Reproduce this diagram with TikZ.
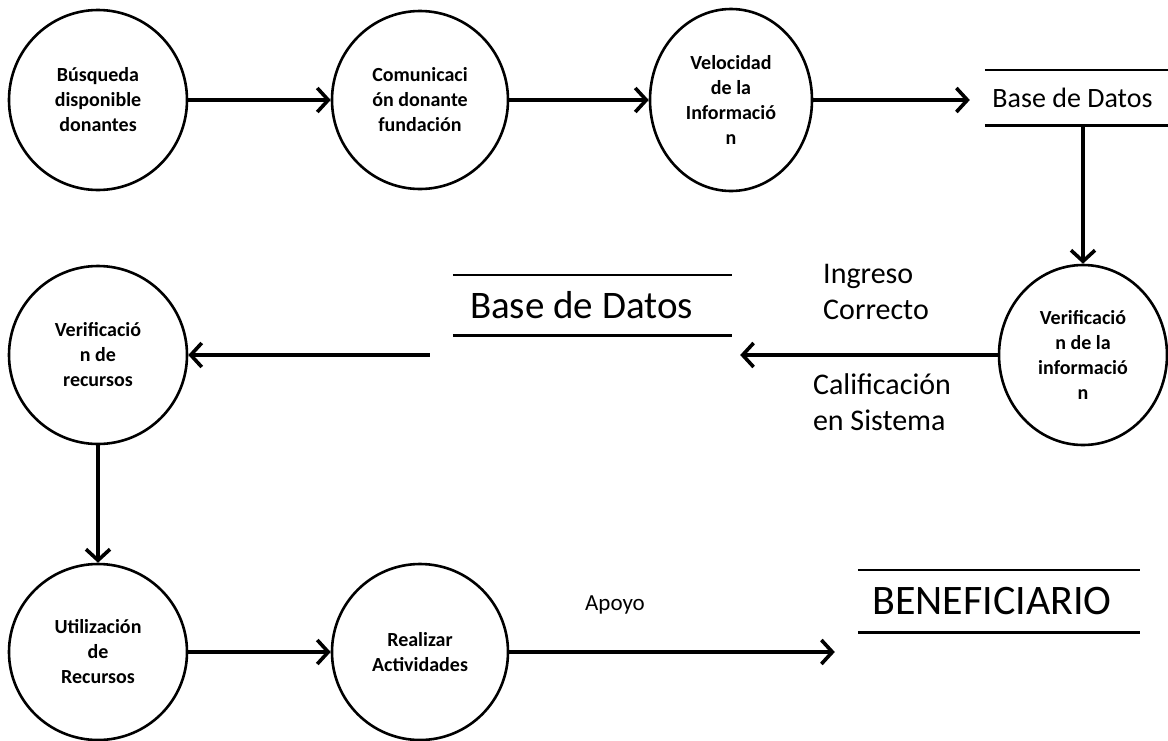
\documentclass[tikz,border=0pt]{standalone}
\usepackage{fontspec}
\setmainfont{Carlito}
\usepackage{tikz}
\usetikzlibrary{arrows.meta,shapes.geometric,positioning}

\begin{document}
\begin{tikzpicture}[x=1pt,y=-1pt,
  >={Straight Barb[length=11pt,width=24pt]},
  every node/.style={inner sep=0pt},
  proc/.style={ellipse, draw, line width=2.6pt, align=center,
    font=\bfseries\fontsize{20}{25}\selectfont},
  store/.style={draw=none, rectangle},
  flow/.style={->, line width=3.6pt},
  lbl/.style={align=left, font=\fontsize{30}{36}\selectfont}]

  \useasboundingbox (0,0) rectangle (1168,740);

  % procesos
  \node (busq) [proc, minimum width=178pt, minimum height=180pt] at (98,100)
    {Búsqueda\\disponible\\donantes};
  \node (comu) [proc, minimum width=176pt, minimum height=178pt] at (420,100)
    {Comunicaci\\ón donante\\fundación};
  \node (velo) [proc, minimum width=162pt, minimum height=182pt] at (731,100)
    {Velocidad\\de la\\Informació\\n};
  \node (veri) [proc, minimum width=168pt, minimum height=180pt] at (1083,355)
    {Verificació\\n de la\\informació\\n};
  \node (vrec) [proc, minimum width=178pt, minimum height=178pt] at (98,355)
    {Verificació\\n de\\recursos};
  \node (util) [proc, minimum width=178pt, minimum height=176pt] at (98,652)
    {Utilización\\de\\Recursos};
  \node (real) [proc, minimum width=176pt, minimum height=176pt] at (420,652)
    {Realizar\\Actividades};

  % almacenes
  \node (bd1) [store, minimum width=183pt, minimum height=55pt,
    font=\fontsize{28}{30}\selectfont] at (1076.5,97.5) {Base de Datos\kern8pt};
  \node (bd2) [store, minimum width=279pt, minimum height=60pt,
    font=\fontsize{39}{40}\selectfont] at (592.5,305) {Base de Datos\kern22pt};
  \node (bene) [store, minimum width=282pt, minimum height=62pt,
    font=\fontsize{42}{44}\selectfont] at (999,601) {BENEFICIARIO\kern14pt};
  \foreach \s in {bd1,bd2,bene} {
    \draw [line width=2.6pt] (\s.north west) -- (\s.north east);
    \draw [line width=2.6pt] (\s.south west) -- (\s.south east);
  }

  % etiquetas
  \node (ingr) [lbl] at (876,292) {Ingreso\\Correcto};
  \node (cali) [lbl] at (882,402) {Calificación\\en Sistema};
  \node (apoy) [font=\fontsize{23}{25}\selectfont] at (615,605) {Apoyo};

  % flujos
  \draw [flow] (busq) -- (comu);
  \draw [flow] (comu) -- (velo);
  \draw [flow] (velo.east) -- ([xshift=-15pt]bd1.west |- velo.east);
  \draw [flow] (veri.north |- bd1.south) -- (veri.north);
  \draw [flow] (veri.west) -- ([xshift=8pt]bd2.east |- veri.west);
  \draw [flow] ([xshift=-23pt]bd2.west |- vrec.east) -- (vrec.east);
  \draw [flow] (vrec) -- (util);
  \draw [flow] (util) -- (real);
  \draw [flow] (real.east) -- ([xshift=-23pt]bene.west |- real.east);
\end{tikzpicture}
\end{document}
